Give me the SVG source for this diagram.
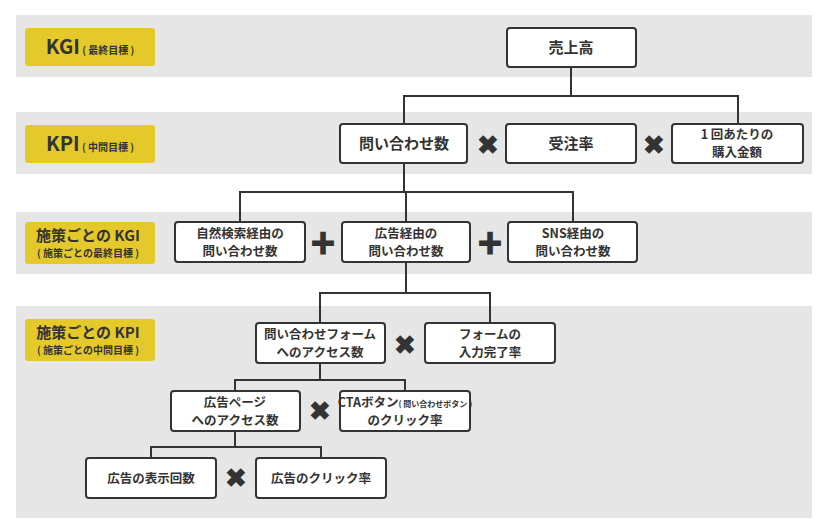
<svg xmlns="http://www.w3.org/2000/svg" width="828" height="530" viewBox="0 0 828 530">
<style>
.band{fill:#e6e6e6}
.lab{fill:#e5c92a}
.box{fill:#fff;stroke:#333;stroke-width:2}
text{font-family:"Noto Sans CJK JP","Noto Sans",sans-serif;fill:#333;font-weight:bold;text-anchor:middle}
.t{font-size:12.5px}
.big{font-size:15px}
.ll{font-size:20px}
.ls{font-size:10px}
.op{font-size:26px}
.c path{fill:none;stroke:#333;stroke-width:2}
</style>
<rect width="828" height="530" fill="#fff"/>
<rect class="band" x="16" y="15" width="796" height="62"/>
<rect class="band" x="16" y="112" width="796" height="62"/>
<rect class="band" x="16" y="212" width="796" height="62"/>
<rect class="band" x="16" y="306" width="796" height="212"/>
<g id="lab1"><rect class="lab" x="25" y="28" width="130" height="38" rx="3"/><text x="90" y="54"><tspan class="ll">KGI</tspan><tspan class="ls"> ( 最終目標 )</tspan></text></g>
<g id="lab2"><rect class="lab" x="25" y="125" width="130" height="38" rx="3"/><text x="90" y="151"><tspan class="ll">KPI</tspan><tspan class="ls"> ( 中間目標 )</tspan></text></g>
<g id="lab3"><rect class="lab" x="25" y="222" width="130" height="42" rx="3"/><text x="88" y="241" style="font-size:15px">施策ごとの KGI</text><text x="88" y="257" class="ls">( 施策ごとの最終目標 )</text></g>
<g id="lab4"><rect class="lab" x="25" y="319" width="130" height="42" rx="3"/><text x="88" y="338" style="font-size:15px">施策ごとの KPI</text><text x="88" y="354" class="ls">( 施策ごとの中間目標 )</text></g>
<g class="c" id="connectors">
<path d="M571 67V96M404 124V96H738V124"/>
<path d="M404 163V192M240 222V192H573V222M406 192V222"/>
<path d="M406 262V293M320 323V293H490V323"/>
<path d="M320 363V380M235 391V380H405V391"/>
<path d="M235 431V447M151 458V447H321V458"/>
</g>
<g id="n1"><rect class="box" x="507" y="28" width="129" height="39" rx="3"/><text class="big" x="571" y="53">売上高</text></g>
<g id="n2"><rect class="box" x="340" y="124" width="127" height="39" rx="3"/><text class="big" x="404" y="149">問い合わせ数</text></g>
<g id="n3"><rect class="box" x="506" y="124" width="130" height="39" rx="3"/><text class="big" x="571" y="149">受注率</text></g>
<g id="n4"><rect class="box" x="672" y="124" width="131" height="39" rx="3"/><text class="t" x="737" y="139">1 回あたりの</text><text class="t" x="737" y="157">購入金額</text></g>
<g id="n5"><rect class="box" x="175" y="222" width="130" height="40" rx="3"/><text class="t" x="240" y="238">自然検索経由の</text><text class="t" x="240" y="256">問い合わせ数</text></g>
<g id="n6"><rect class="box" x="342" y="222" width="128" height="40" rx="3"/><text class="t" x="406" y="238">広告経由の</text><text class="t" x="406" y="256">問い合わせ数</text></g>
<g id="n7"><rect class="box" x="508" y="222" width="129" height="40" rx="3"/><text class="t" x="573" y="238">SNS経由の</text><text class="t" x="573" y="256">問い合わせ数</text></g>
<g id="n8"><rect class="box" x="256" y="323" width="129" height="40" rx="3"/><text class="t" x="320" y="339">問い合わせフォーム</text><text class="t" x="320" y="357">へのアクセス数</text></g>
<g id="n9"><rect class="box" x="425" y="323" width="130" height="40" rx="3"/><text class="t" x="490" y="339">フォームの</text><text class="t" x="490" y="357">入力完了率</text></g>
<g id="n10"><rect class="box" x="171" y="391" width="129" height="40" rx="3"/><text class="t" x="235" y="407">広告ページ</text><text class="t" x="235" y="425">へのアクセス数</text></g>
<g id="n11"><rect class="box" x="340" y="391" width="130" height="40" rx="3"/><text x="405" y="407"><tspan class="t">CTAボタン</tspan><tspan style="font-size:8px">( 問い合わせボタン )</tspan></text><text class="t" x="405" y="425">のクリック率</text></g>
<g id="n12"><rect class="box" x="86" y="458" width="130" height="40" rx="3"/><text class="t" x="151" y="483">広告の表示回数</text></g>
<g id="n13"><rect class="box" x="256" y="458" width="130" height="40" rx="3"/><text class="t" x="321" y="483">広告のクリック率</text></g>
<g id="ops" style="font-family:'DejaVu Sans',sans-serif">
<text class="op" x="488" y="154">✖</text><text class="op" x="654" y="154">✖</text>
<text class="op" x="323" y="253">✚</text><text class="op" x="490" y="253">✚</text>
<text class="op" x="405" y="354">✖</text><text class="op" x="320" y="420">✖</text><text class="op" x="236" y="487">✖</text>
</g>
</svg>
